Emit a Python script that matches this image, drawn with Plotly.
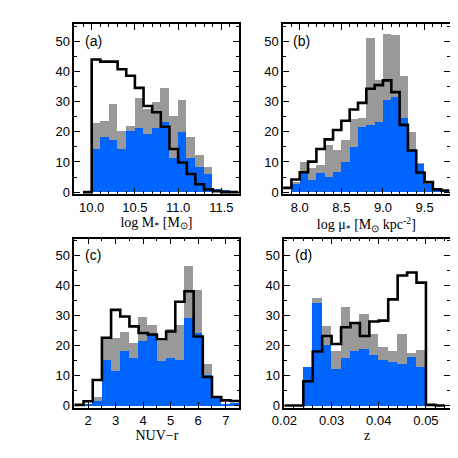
import numpy as np
import plotly.graph_objects as go

# --- histogram values (counts per bin) ---
# (a) stellar mass, bins of 0.1 starting at 9.9
mass_start, mass_width = 9.9, 0.1
mass_all = [0, 44, 43.3, 43.3, 40.8, 38.6, 34.6, 28.6, 26.5, 21.7, 14.3, 9.8, 6, 2.6, 0.9, 0.3, 0, 0]
mass_gray = [0, 22.8, 23.5, 29.3, 20.3, 22, 31.2, 27.5, 29.9, 34.4, 25.3, 30.6, 18.3, 12.1, 8.2, 0.9, 0, 0]
mass_blue = [0, 14.1, 18.2, 17.2, 14.1, 20.1, 21.2, 19.2, 21.2, 23, 11.1, 20, 11.1, 8.2, 6, 0.9, 0.3, 0]

# (b) surface mass density, bins of 0.1 starting at 7.8
mu_start, mu_width = 7.8, 0.1
mu_all = [1.4, 4.2, 6.6, 10.1, 14.3, 17.5, 20.6, 23.7, 27.4, 29.6, 34.3, 35.5, 37.1, 33.2, 22.3, 13.8, 6.5, 3.3, 0.9, 0.5]
mu_gray = [0, 3.3, 10, 7.8, 8.8, 15.4, 14, 17.3, 24, 24.5, 51, 37, 52.4, 51.9, 38.4, 19.7, 9.4, 3.5, 1.1, 0.4]
mu_blue = [0, 2.6, 6.4, 3.9, 6.2, 5, 6.7, 10, 14.8, 21.5, 22.3, 23, 30.5, 31.3, 24.5, 13.5, 9.1, 2.7, 0.9, 0.4]

# (c) NUV-r colour, bins of 1/3 starting at 1.5
nuv_start, nuv_width = 1.5, 1 / 3
nuv_all = [0.2, 1.4, 8.5, 22.6, 31.9, 29.7, 26.4, 24.2, 23.7, 22.1, 24.7, 34.6, 38.1, 23, 9.5, 2.8, 1.7, 1.5]
nuv_gray = [0, 0.3, 3, 22.3, 22.5, 24.5, 21, 29.6, 27.1, 21.8, 25.8, 27.1, 46.7, 38.6, 14, 2.7, 0.3, 0.9]
nuv_blue = [0, 0.3, 1.7, 15.2, 11.8, 18.2, 16.1, 21.5, 23.8, 15, 16, 15.2, 29.2, 24.2, 10.3, 2.5, 0.3, 0.9]

# (d) redshift, bins of 0.002 starting at 0.020
z_start, z_width = 0.020, 0.002
z_all = [0, 0, 8.1, 18, 23.2, 20.5, 26.1, 27.5, 23.2, 28, 28.3, 35.4, 43.4, 44.4, 41, 0.2, 0]
z_gray = [0, 0, 12.9, 36.1, 26.8, 18.3, 33.1, 28, 30.8, 24.1, 19.6, 18.3, 24, 17.8, 18.8, 0, 0]
z_blue = [0, 0, 12.9, 34.2, 20.2, 12.2, 16, 18.3, 19, 17, 15.3, 14.8, 14, 16.2, 13, 0, 0]

GRAY = "#999999"
BLUE = "#0064FF"
TICK_FONT = dict(family="Liberation Sans", size=13, color="black")
TITLE_FONT = dict(family="Liberation Serif", size=14, color="black")

panels = [
    # start, width, all, gray, blue, label, xrange, xtick0, xdtick, xminor, fmt, title, domain x, domain y
    (mass_start, mass_width, mass_all, mass_gray, mass_blue, "(a)", [9.8, 11.7], 10.0, 0.5, 0.1, ".1f",
     "log M<sub>*</sub> [M<sub>⊙</sub>]", [0.120, 0.489], [0.589, 0.964]),
    (mu_start, mu_width, mu_all, mu_gray, mu_blue, "(b)", [7.8, 9.8], 8.0, 0.5, 0.1, ".1f",
     "log μ<sub>*</sub> [M<sub>⊙</sub> kpc<sup>-2</sup>]", [0.589, 0.963], [0.589, 0.964]),
    (nuv_start, nuv_width, nuv_all, nuv_gray, nuv_blue, "(c)", [1.5, 7.5], 2, 1, 0.5, "d",
     "NUV−r", [0.120, 0.491], [0.118, 0.491]),
    (z_start, z_width, z_all, z_gray, z_blue, "(d)", [0.02, 0.055], 0.02, 0.01, 0.002, ".2f",
     "z", [0.592, 0.963], [0.118, 0.491]),
]

fig = go.Figure()
layout = dict(
    width=458, height=458, margin=dict(l=0, r=0, t=0, b=0),
    paper_bgcolor="white", plot_bgcolor="white", showlegend=False,
    barmode="overlay", bargap=0, annotations=[],
)

for i, (start, width, h_all, h_gray, h_blue, label, xr, t0, dt, mdt, fmt, title, dx, dy) in enumerate(panels):
    n = len(h_all)
    edges = start + width * np.arange(n + 1)
    centers = edges[:-1] + width / 2
    xa = "x" if i == 0 else f"x{i + 1}"
    ya = "y" if i == 0 else f"y{i + 1}"

    fig.add_trace(go.Bar(x=centers, y=h_gray, width=width, marker=dict(color=GRAY, line=dict(width=0)),
                         xaxis=xa, yaxis=ya, hoverinfo="skip"))
    fig.add_trace(go.Bar(x=centers, y=h_blue, width=width, marker=dict(color=BLUE, line=dict(width=0)),
                         xaxis=xa, yaxis=ya, hoverinfo="skip"))
    fig.add_trace(go.Scatter(x=edges, y=list(h_all) + [h_all[-1]], mode="lines",
                             line=dict(color="black", width=2.6, shape="hv"),
                             xaxis=xa, yaxis=ya, hoverinfo="skip"))

    common = dict(showline=True, linecolor="black", linewidth=1.5, mirror="allticks",
                  ticks="inside", ticklen=6, tickwidth=1.2, tickcolor="black",
                  showgrid=False, zeroline=False, tickfont=TICK_FONT)
    xk = "xaxis" if i == 0 else f"xaxis{i + 1}"
    yk = "yaxis" if i == 0 else f"yaxis{i + 1}"
    layout[xk] = dict(common, domain=dx, anchor=ya, range=xr, tick0=t0, dtick=dt, tickformat=fmt,
                      minor=dict(dtick=mdt, tick0=t0, ticks="inside", ticklen=3, tickcolor="black", tickwidth=1),
                      title=dict(text=title, font=TITLE_FONT, standoff=0))
    layout[yk] = dict(common, domain=dy, anchor=xa, range=[-0.7, 55.7], tick0=0, dtick=10,
                      minor=dict(dtick=5, ticks="inside", ticklen=3, tickcolor="black", tickwidth=1))
    layout["annotations"].append(dict(text=label, xref=f"{xa} domain", yref=f"{ya} domain",
                                      x=0.05, y=0.9, xanchor="left", yanchor="middle", showarrow=False,
                                      font=dict(family="Liberation Sans", size=14, color="black")))

fig.update_layout(**layout)
fig.write_html("out.html")
